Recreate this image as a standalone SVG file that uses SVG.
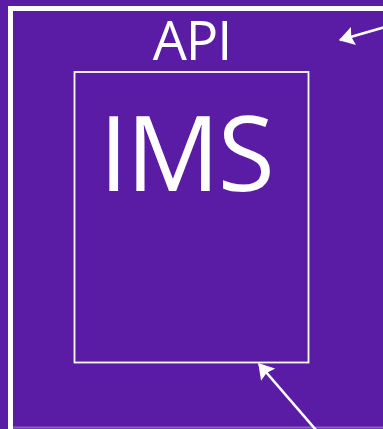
<svg xmlns="http://www.w3.org/2000/svg" width="383" height="429" viewBox="0 0 383 429">
  <defs>
    <marker id="head" viewBox="0 0 13 16" refX="12" refY="8" markerWidth="6" markerHeight="7.2" markerUnits="strokeWidth" orient="auto">
      <path d="M0,0 L13,8 L0,16 L2,8 z" fill="#ffffff"/>
    </marker>
  </defs>
  <style>
    .box { fill: none; stroke: #ffffff; }
    .label { fill: #ffffff; font-family: "Open Sans", "Noto Sans", sans-serif; text-anchor: middle; }
    .conn { stroke: #ffffff; stroke-width: 2.6; fill: none; marker-end: url(#head); }
  </style>
  <rect x="0" y="0" width="383" height="429" fill="#5a1ca4"/>
  <line x1="13" y1="427.5" x2="383" y2="427.5" stroke="#8a62c4" stroke-width="2"/>
  <g id="api">
    <rect class="box" x="10.5" y="8.5" width="380" height="430" stroke-width="5"/>
    <text class="label" x="192" y="60" font-size="54" letter-spacing="-1">API</text>
  </g>
  <g id="ims">
    <rect class="box" x="74.5" y="72" width="234" height="290.5" stroke-width="1.8"/>
    <text class="label" x="186" y="191" font-size="104" letter-spacing="-2">IMS</text>
  </g>
  <g id="connectors">
    <line class="conn" x1="385" y1="27" x2="340" y2="40"/>
    <line class="conn" x1="316" y1="430" x2="259" y2="364"/>
  </g>
</svg>
